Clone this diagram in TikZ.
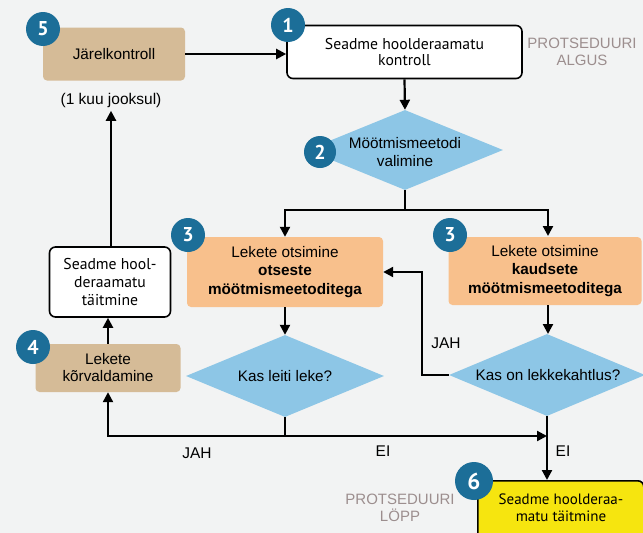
\documentclass[tikz,border=0pt]{standalone}
\usepackage{fontspec}
\setmainfont{Liberation Sans}
\newfontfamily\myr{PT Sans}
\usetikzlibrary{shapes.geometric,arrows.meta,calc}
\definecolor{bg}{HTML}{F2F3F3}
\definecolor{numblue}{HTML}{1C6E98}
\definecolor{tan}{HTML}{D5BB97}
\definecolor{orng}{HTML}{F8C08C}
\definecolor{dblue}{HTML}{8DC6E6}
\definecolor{yel}{HTML}{F6E50F}
\definecolor{procgray}{HTML}{9C8E8E}
\tikzset{
  every node/.style={font=\fontsize{15.3}{17.5}\selectfont, align=center},
  tanbox/.style={fill=tan, rounded corners=4pt, inner sep=0pt},
  whitebox/.style={fill=white, draw=black, line width=1.6pt, rounded corners=6pt, inner sep=0pt, font=\myr\fontsize{15.7}{18}\selectfont},
  orbox/.style={fill=orng, rounded corners=4pt, inner sep=0pt, font=\fontsize{15.3}{18.5}\selectfont},
  dia/.style={diamond, fill=dblue, inner sep=0pt},
  diatext/.style={font=\fontsize{15.3}{18}\selectfont},
  num/.style={circle, fill=numblue, text=white, minimum size=34pt, inner sep=0pt, font=\myr\bfseries\fontsize{20}{20}\selectfont},
  arr/.style={line width=2.2pt, -{Triangle[length=10pt,width=10pt]}},
  ln/.style={line width=2.2pt},
  proc/.style={text=procgray, font=\fontsize{15}{16.5}\selectfont},
  lbl/.style={font=\fontsize{15.5}{17}\selectfont}
}
\begin{document}
\begin{tikzpicture}[x=1pt,y=-1pt]
\fill[bg] (0,0) rectangle (643,533);
\useasboundingbox (0,0) rectangle (643,533);

% boxes
\node[tanbox, minimum width=142pt, minimum height=53pt, font=\fontsize{15.3}{17}\selectfont] (b5) at (114,54) {Järelkontroll};
\node[lbl] (kuu) at (111,100) {(1 kuu jooksul)};
\node[whitebox, minimum width=235pt, minimum height=53pt, font=\myr\fontsize{15.7}{16.5}\selectfont] (b1) at (404.5,52) {Seadme hoolderaamatu\\kontroll};
\node[proc] (alg) at (582,52) {PROTSEDUURI\\ALGUS};

\node[dia, minimum width=196pt, minimum height=80pt] (d2) at (405,150) {};
\node[diatext] (d2t) at (405,152) {Möötmismeetodi\\valimine};

\node[orbox, minimum width=196pt, minimum height=70pt] (b3a) at (285,272) {Lekete otsimine\\\textbf{otseste}\\\textbf{möötmismeetoditega}};
\node[orbox, minimum width=193pt, minimum height=68pt] (b3b) at (545,271) {Lekete otsimine\\\textbf{kaudsete}\\\textbf{möötmismeetoditega}};

\node[dia, minimum width=198pt, minimum height=82pt] (da) at (285,376) {};
\node[diatext] (dat) at (285,376) {Kas leiti leke?};
\node[dia, minimum width=196pt, minimum height=82pt] (db) at (547,375) {};
\node[diatext] (dbt) at (548,375) {Kas on lekkekahtlus?};

\node[whitebox, minimum width=121pt, minimum height=70pt] (b7) at (110,282) {Seadme hool-\\deraamatu\\täitmine};
\node[tanbox, minimum width=145pt, minimum height=48pt, font=\fontsize{15.3}{17}\selectfont] (b4) at (108,368) {Lekete\\kõrvaldamine};

\node[whitebox, fill=yel, minimum width=166pt, minimum height=66pt, anchor=north west] (b6) at (477,480) {};
\node[font=\myr\fontsize{15}{17}\selectfont] (t6) at (561,508) {Seadme hoolderaa-\\matu täitmine};
\node[proc] (lopp) at (400,508) {PROTSEDUURI\\LÖPP};

% number circles
\node[num] (n5) at (43,29) {5};
\node[num] (n1) at (288,25) {1};
\node[num, minimum size=32pt] (n2) at (320,152) {2};
\node[num] (n3a) at (188,235) {3};
\node[num] (n3b) at (450,235) {3};
\node[num] (n4) at (33,347) {4};
\node[num, minimum size=38pt, font=\myr\bfseries\fontsize{23}{23}\selectfont] (n6) at (474,481) {6};

% connectors
\draw[arr] (b5.east) -- (b1.west |- b5.east);
\draw[arr] (b1.south) -- (d2.north);
\coordinate (j1) at (405,210);
\draw[ln] (d2.south) -- (j1);
\draw[arr] (j1) -| (b3a.north);
\draw[arr] (j1) -| (548,236);
\draw[arr] (b3a.south) -- (da.north);
\draw[arr] (548,305) -- (548,334);
\coordinate (jah1) at (422,375);
\draw[arr] (db.west) -- (jah1) |- (b3a.east);
\node[lbl] (jahu) at (446,343) {JAH};

\coordinate (j2) at (285,436);
\draw[ln] (da.south) -- (j2);
\draw[arr] (j2) -| (b4.south);
\coordinate (j3) at (547,436);
\draw[arr] (j2) -- (j3);
\draw[arr] (db.south) -- (b6.north west -| db.south);
\node[lbl] (jah2) at (197,453) {JAH};
\node[lbl] (ei1) at (383,451) {EI};
\node[lbl] (ei2) at (563,451) {EI};

\draw[arr] (b4.north) -- (b7.south -| b4.north);
\draw[arr] (b7.north -| kuu.south) -- (kuu.south);
\end{tikzpicture}
\end{document}
